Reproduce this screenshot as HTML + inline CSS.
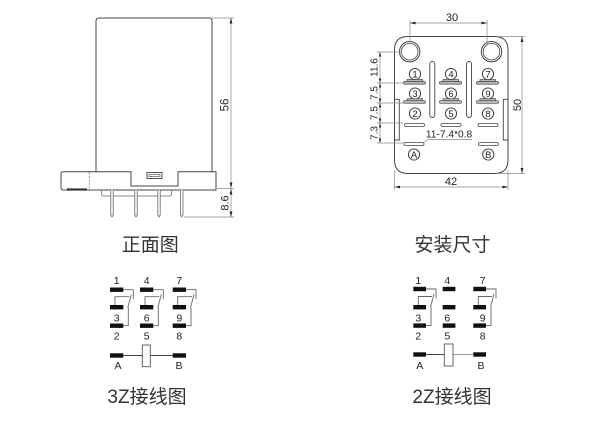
<!DOCTYPE html>
<html><head><meta charset="utf-8"><style>
html,body{margin:0;padding:0;background:#fff;}
svg{display:block;}
text{font-family:"Liberation Sans","Noto Sans CJK SC",sans-serif;fill:#222;}
.cjk{font-family:"Liberation Sans","Noto Sans CJK SC",sans-serif;fill:#333;font-size:19px;}
</style></head><body>
<svg width="600" height="427" viewBox="0 0 600 427" xmlns="http://www.w3.org/2000/svg">
<rect width="600" height="427" fill="#fff"/>

<!-- ============ FRONT VIEW ============ -->
<g fill="none" stroke="#444" stroke-width="1">
  <path d="M96 171.7 V21 Q96 18 99 18 H209 Q212 18 212 21 V171.7"/>
  <path d="M61 174 Q61 171.7 63.5 171.7 H131 V186 H178 V171.7 H216 V190 H63.5 Q61 190 61 187.5 Z"/>
  <line x1="89.3" y1="172.5" x2="89.3" y2="189" stroke-dasharray="2 1.5" stroke="#777" stroke-width="0.8"/>
  <path d="M101.7 190 V194 Q101.7 196 103.7 196 H169.7 Q171.7 196 171.7 194 V190" stroke="#666" stroke-width="0.8"/>
  <rect x="147" y="172.5" width="15" height="6" stroke-width="0.9"/>
  <rect x="149" y="174.3" width="11" height="2.4" stroke-width="0.6"/>
</g>
<rect x="67" y="188.4" width="20" height="2.2" fill="#333"/>
<g fill="#fff" stroke="#666" stroke-width="0.8">
  <path d="M110.8 190 V215 L112 217 L113.2 215 V190"/>
  <path d="M134.8 190 V215 L136 217 L137.2 215 V190"/>
  <path d="M157.8 190 V215 L159 217 L160.2 215 V190"/>
  <path d="M180.6 190 V215 L181.8 217 L183 215 V190"/>
</g>
<!-- dims -->
<g stroke="#888" stroke-width="0.7" fill="none">
  <line x1="231" y1="18" x2="231" y2="217"/>
  <line x1="212" y1="18" x2="234" y2="18"/>
  <line x1="217" y1="188.5" x2="234" y2="188.5"/>
  <line x1="184" y1="217" x2="234" y2="217"/>
</g>
<g fill="#222">
  <path d="M231 18 L229.6 23.5 L232.4 23.5 Z"/>
  <path d="M231 188 L229.6 182.5 L232.4 182.5 Z"/>
  <path d="M231 189 L229.6 194.5 L232.4 194.5 Z"/>
  <path d="M231 217 L229.6 211.5 L232.4 211.5 Z"/>
</g>
<text x="228.5" y="105" font-size="11.5" text-anchor="middle" transform="rotate(-90 228.5 105)">56</text>
<text x="228.5" y="203" font-size="11" text-anchor="middle" transform="rotate(-90 228.5 203)">8.6</text>

<text class="cjk" x="150.3" y="251" text-anchor="middle">正面图</text>

<!-- ============ MOUNTING VIEW ============ -->
<g fill="none" stroke="#444" stroke-width="1">
  <path d="M408 36.5 H494.5 Q508 36.5 508 50 V160 Q508 173.5 494.5 173.5 H408 Q394.5 173.5 394.5 160 V50 Q394.5 36.5 408 36.5 Z"/>
  <path d="M394.5 99.3 H399.3 V140 H394.5" stroke-width="0.9"/>
  <path d="M508 99.3 H503.3 V140 H508" stroke-width="0.9"/>
  <circle cx="409.7" cy="51.7" r="10.2"/>
  <circle cx="409.7" cy="51.7" r="8.3" stroke-width="0.8"/>
  <circle cx="491.5" cy="51.7" r="10.2"/>
  <circle cx="491.5" cy="51.7" r="8.3" stroke-width="0.8"/>
  <rect x="429.8" y="61.5" width="5" height="56" rx="2.5" stroke-width="0.9"/>
  <rect x="466.5" y="61.5" width="5" height="56" rx="2.5" stroke-width="0.9"/>
</g>

<!-- circled labels -->
<g fill="none" stroke="#333" stroke-width="0.9">
  <circle cx="415" cy="74" r="5.6"/><circle cx="451" cy="74" r="5.6"/><circle cx="488" cy="74" r="5.6"/>
  <circle cx="415" cy="93.5" r="5.6"/><circle cx="451" cy="93.5" r="5.6"/><circle cx="488" cy="93.5" r="5.6"/>
  <circle cx="415" cy="113.5" r="5.6"/><circle cx="451" cy="113.5" r="5.6"/><circle cx="488" cy="113.5" r="5.6"/>
  <circle cx="414" cy="154.5" r="5.6"/><circle cx="488.3" cy="154.5" r="5.6"/>
</g>
<g font-size="9.5" text-anchor="middle">
  <text x="415" y="77.4">1</text><text x="451" y="77.4">4</text><text x="488" y="77.4">7</text>
  <text x="415" y="96.9">3</text><text x="451" y="96.9">6</text><text x="488" y="96.9">9</text>
  <text x="415" y="116.9">2</text><text x="451" y="116.9">5</text><text x="488" y="116.9">8</text>
  <text x="414" y="157.9">A</text><text x="488.3" y="157.9">B</text>
</g>

<!-- terminal bars -->
<g fill="#bbb" stroke="#444" stroke-width="0.7">
  <rect x="403.5" y="81.5" width="22" height="2.6" rx="1"/>
  <rect x="407" y="79.5" width="15.5" height="2" />
  <rect x="439.5" y="81.5" width="22" height="2.6" rx="1"/>
  <rect x="443" y="79.5" width="15.5" height="2"/>
  <rect x="476.5" y="81.5" width="22" height="2.6" rx="1"/>
  <rect x="480" y="79.5" width="15.5" height="2"/>
  <rect x="403.5" y="100.7" width="22" height="2.6" rx="1"/>
  <rect x="407" y="98.7" width="15.5" height="2"/>
  <rect x="439.5" y="100.7" width="22" height="2.6" rx="1"/>
  <rect x="443" y="98.7" width="15.5" height="2"/>
  <rect x="476.5" y="100.7" width="22" height="2.6" rx="1"/>
  <rect x="480" y="98.7" width="15.5" height="2"/>
</g>
<g fill="#fff" stroke="#444" stroke-width="0.8">
  <rect x="404.5" y="123.5" width="20" height="3" rx="1.5"/>
  <rect x="441" y="123.5" width="20" height="3" rx="1.5"/>
  <rect x="478" y="123.5" width="20" height="3" rx="1.5"/>
  <rect x="404" y="142.5" width="20" height="3" rx="1.5"/>
  <rect x="478.3" y="142.5" width="20" height="3" rx="1.5"/>
</g>
<text x="449" y="137.5" font-size="10.2" text-anchor="middle">11-7.4*0.8</text>
<polyline points="424.5,142.5 427.5,139.6 472,139.6" fill="none" stroke="#888" stroke-width="0.7"/>

<!-- mount dims -->
<g stroke="#888" stroke-width="0.7" fill="none">
  <line x1="410" y1="23" x2="487" y2="23"/>
  <line x1="410" y1="20" x2="410" y2="44"/>
  <line x1="487" y1="20" x2="487" y2="44"/>
  <line x1="522" y1="36.5" x2="522" y2="173.5"/>
  <line x1="496" y1="36.5" x2="525" y2="36.5"/>
  <line x1="496" y1="173.5" x2="525" y2="173.5"/>
  <line x1="394.5" y1="187" x2="508" y2="187"/>
  <line x1="394.5" y1="170" x2="394.5" y2="190"/>
  <line x1="508" y1="170" x2="508" y2="190"/>
  <line x1="380" y1="52" x2="380" y2="143"/>
  <line x1="377" y1="52" x2="402" y2="52"/>
  <line x1="377" y1="83" x2="405" y2="83"/>
  <line x1="377" y1="103" x2="405" y2="103"/>
  <line x1="377" y1="123" x2="403" y2="123"/>
  <line x1="377" y1="143" x2="403" y2="143"/>
</g>
<g fill="#222">
  <path d="M410 23 L415.5 21.6 L415.5 24.4 Z"/>
  <path d="M487 23 L481.5 21.6 L481.5 24.4 Z"/>
  <path d="M522 36.5 L520.6 42 L523.4 42 Z"/>
  <path d="M522 173.5 L520.6 168 L523.4 168 Z"/>
  <path d="M394.5 187 L400 185.6 L400 188.4 Z"/>
  <path d="M508 187 L502.5 185.6 L502.5 188.4 Z"/>
  <path d="M380 52 L378.8 56.5 L381.2 56.5 Z"/>
  <path d="M380 83 L378.8 78.5 L381.2 78.5 Z"/>
  <path d="M380 83 L378.8 87.5 L381.2 87.5 Z"/>
  <path d="M380 103 L378.8 98.5 L381.2 98.5 Z"/>
  <path d="M380 103 L378.8 107.5 L381.2 107.5 Z"/>
  <path d="M380 123 L378.8 118.5 L381.2 118.5 Z"/>
  <path d="M380 123 L378.8 127.5 L381.2 127.5 Z"/>
  <path d="M380 143 L378.8 138.5 L381.2 138.5 Z"/>
</g>
<text x="452" y="21" font-size="11" text-anchor="middle">30</text>
<text x="451" y="185" font-size="11" text-anchor="middle">42</text>
<text x="521" y="105" font-size="11" text-anchor="middle" transform="rotate(-90 521 105)">50</text>
<g font-size="10" text-anchor="middle">
  <text x="377.5" y="67.5" transform="rotate(-90 377.5 67.5)">11.6</text>
  <text x="377.5" y="93" transform="rotate(-90 377.5 93)">7.5</text>
  <text x="377.5" y="113" transform="rotate(-90 377.5 113)">7.5</text>
  <text x="377.5" y="133" transform="rotate(-90 377.5 133)">7.3</text>
</g>

<text class="cjk" x="452.5" y="251" text-anchor="middle">安装尺寸</text>

<!-- ============ 3Z WIRING ============ -->
<g fill="#111">
  <rect x="110" y="287.5" width="13.3" height="4.4"/>
  <rect x="140" y="287.5" width="13.3" height="4.4"/>
  <rect x="172.7" y="287.5" width="13.3" height="4.4"/>
  <rect x="110" y="305" width="13.3" height="4.4"/>
  <rect x="140" y="305" width="13.3" height="4.4"/>
  <rect x="172.7" y="305" width="13.3" height="4.4"/>
  <rect x="110" y="323.5" width="13.3" height="4.4"/>
  <rect x="140" y="323.5" width="13.3" height="4.4"/>
  <rect x="172.7" y="323.5" width="13.3" height="4.4"/>
  <rect x="110" y="353.3" width="13.3" height="4.4"/>
  <rect x="172.7" y="353.3" width="13.3" height="4.4"/>
</g>
<g fill="none" stroke="#666" stroke-width="0.9">
  <path d="M123.3 289.7 H133.3 V299 M131.3 294.5 L127.8 307.5 M115 305 V296.7 H129.3 M123.3 325.7 H128.3 V307.5"/>
  <path d="M153.3 289.7 H163.3 V299 M161.3 294.5 L157.8 307.5 M145 305 V296.7 H159.3 M153.3 325.7 H158.3 V307.5"/>
  <path d="M186 289.7 H196 V299 M194 294.5 L190.5 307.5 M177.7 305 V296.7 H192 M186 325.7 H191 V307.5"/>
  <line x1="123.3" y1="355.5" x2="172.7" y2="355.5" stroke="#444"/>
</g>
<rect x="142.3" y="345" width="8" height="21.7" fill="#fff" stroke="#555" stroke-width="0.9"/>
<g font-size="10.5" text-anchor="middle">
  <text x="116.7" y="284">1</text><text x="146.7" y="284">4</text><text x="179.3" y="284">7</text>
  <text x="116.7" y="321.5">3</text><text x="146.7" y="321.5">6</text><text x="179.3" y="321.5">9</text>
  <text x="116.7" y="339.5">2</text><text x="146.7" y="339.5">5</text><text x="179.3" y="339.5">8</text>
  <text x="118" y="369">A</text><text x="179" y="369">B</text>
</g>
<text class="cjk" x="147" y="403" text-anchor="middle">3Z接线图</text>

<!-- ============ 2Z WIRING ============ -->
<g fill="#111">
  <rect x="413.3" y="286.8" width="12.7" height="4.4"/>
  <rect x="442.7" y="286.8" width="12.7" height="4.4"/>
  <rect x="473.3" y="286.8" width="12.7" height="4.4"/>
  <rect x="413.3" y="305" width="12.7" height="4.4"/>
  <rect x="442.7" y="305" width="12.7" height="4.4"/>
  <rect x="473.3" y="305" width="12.7" height="4.4"/>
  <rect x="413.3" y="323.4" width="12.7" height="4.4"/>
  <rect x="442.7" y="323.4" width="12.7" height="4.4"/>
  <rect x="473.3" y="323.4" width="12.7" height="4.4"/>
  <rect x="413.3" y="352.3" width="12.7" height="4.4"/>
  <rect x="473.3" y="352.3" width="12.7" height="4.4"/>
</g>
<g fill="none" stroke="#666" stroke-width="0.9">
  <path d="M426 289 H436 V298.5 M434 294 L430.5 307 M418.3 305 V296.5 H432 M426 325.6 H431 V307"/>
  <path d="M486 289 H496 V298.5 M494 294 L490.5 307 M478.3 305 V296.5 H492 M486 325.6 H491 V307"/>
  <line x1="426" y1="354.5" x2="444.3" y2="354.5" stroke="#444"/>
  <line x1="453" y1="354.5" x2="473.3" y2="354.5" stroke="#999"/>
</g>
<rect x="444.3" y="344" width="8.7" height="22" fill="#fff" stroke="#555" stroke-width="0.9"/>
<g font-size="10.5" text-anchor="middle">
  <text x="418.3" y="284">1</text><text x="447.3" y="284">4</text><text x="482.7" y="284">7</text>
  <text x="418.3" y="321.5">3</text><text x="447.3" y="321.5">6</text><text x="482.7" y="321.5">9</text>
  <text x="418.3" y="339.5">2</text><text x="447.3" y="339.5">5</text><text x="482.7" y="339.5">8</text>
  <text x="419.7" y="369">A</text><text x="481" y="369">B</text>
</g>
<text class="cjk" x="452" y="403" text-anchor="middle">2Z接线图</text>

</svg>
</body></html>
